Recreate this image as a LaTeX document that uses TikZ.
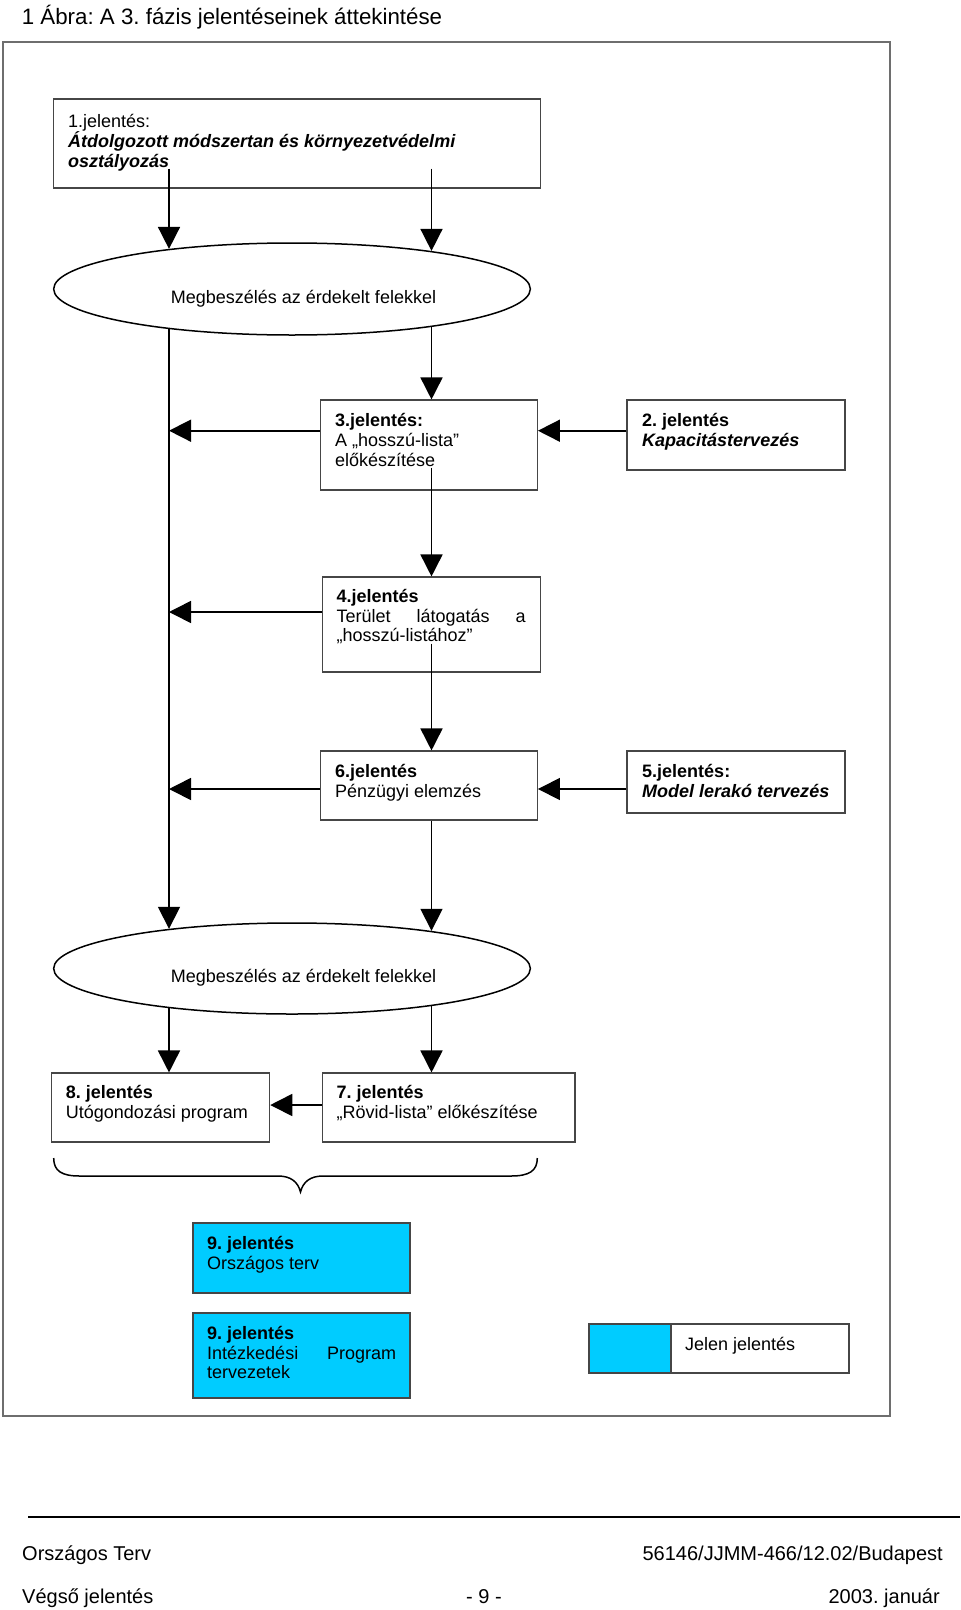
\documentclass[tikz,border=0pt]{standalone}
\usepackage{fontspec}
\setmainfont{Liberation Sans}
\usetikzlibrary{arrows.meta,shapes.geometric,calc}
\definecolor{cyanbox}{RGB}{0,204,255}
\definecolor{boxline}{RGB}{70,70,70}
\definecolor{frameline}{RGB}{110,110,110}
\newcommand\fl{\rule{0pt}{16bp}}
\frenchspacing
\begin{document}
\begin{tikzpicture}[x=1bp,y=-1bp,
  box/.style={draw=boxline, line width=1.1bp, rectangle, inner sep=0pt},
  ell/.style={draw=black, line width=1.5bp, ellipse, inner sep=0pt},
  txt/.style={inner sep=0pt, anchor=north west, align=left, font=\fontsize{18bp}{19.8bp}\selectfont},
  lbl/.style={inner sep=0pt, font=\fontsize{18bp}{19.8bp}\selectfont},
  arr/.style={line width=1.6bp, -{Triangle[length=22bp,width=22bp]}},
  foot/.style={inner sep=0pt, font=\fontsize{20bp}{22bp}\selectfont}]
\useasboundingbox (0,0) rectangle (960,1610);
\fill[white] (0,0) rectangle (960,1610);

% title
\node[inner sep=0pt, anchor=base west, font=\fontsize{22.3bp}{24bp}\selectfont] (title) at (21.7,25) {1 Ábra: A 3. fázis jelentéseinek áttekintése};

% outer frame
\node[draw=frameline, line width=1.3bp, rectangle, inner sep=0pt, minimum width=887bp, minimum height=1374bp] (frame) at (446.5,729) {};

% boxes
\node[box, minimum width=486.6bp, minimum height=89bp] (b1) at (297,143.5) {};
\node[box, minimum width=217bp, minimum height=90bp] (b3) at (428.9,445) {};
\node[box, minimum width=218bp, minimum height=70bp] (b2) at (736,435) {};
\node[box, minimum width=218bp, minimum height=95bp] (b4) at (431.4,624.5) {};
\node[box, minimum width=217bp, minimum height=69bp] (b6) at (428.9,785.5) {};
\node[box, minimum width=218bp, minimum height=62bp] (b5) at (736,782) {};
\node[box, minimum width=218bp, minimum height=69bp] (b8) at (160.7,1107.5) {};
\node[box, minimum width=252.6bp, minimum height=69bp] (b7) at (448.7,1107.5) {};
\node[box, fill=cyanbox, minimum width=217bp, minimum height=70bp] (b9a) at (301.5,1258) {};
\node[box, fill=cyanbox, minimum width=217bp, minimum height=85bp] (b9b) at (301.5,1355.5) {};
\node[box, fill=cyanbox, minimum width=82bp, minimum height=49bp] (lg1) at (630,1348.5) {};
\node[box, minimum width=178bp, minimum height=49bp] (lg2) at (760,1348.5) {};

% ellipses
\node[ell, minimum width=476.7bp, minimum height=92bp] (e1) at (292,289) {};
\node[ell, minimum width=476.7bp, minimum height=91bp] (e2) at (292,968.5) {};
\node[lbl, anchor=base] (e1t) at (303.5,303) {Megbeszélés az érdekelt felekkel};
\node[lbl, anchor=base] (e2t) at (303.5,982) {Megbeszélés az érdekelt felekkel};

% points where the vertical connectors meet the ellipses (x = 169 and x = 431.5)
\coordinate (e1tl) at ($(e1.center)+(-123,-40.1)$);
\coordinate (e1tr) at ($(e1.center)+(139.5,-38.1)$);
\coordinate (e1bl) at ($(e1.center)+(-123,40.1)$);
\coordinate (e1br) at ($(e1.center)+(139.5,38.1)$);
\coordinate (e2tl) at ($(e2.center)+(-123,-39.7)$);
\coordinate (e2tr) at ($(e2.center)+(139.5,-37.7)$);
\coordinate (e2bl) at ($(e2.center)+(-123,39.7)$);
\coordinate (e2br) at ($(e2.center)+(139.5,37.7)$);

% box texts
\node[txt] (t1) at (68,111.5) {\fl 1.jelentés:\\ \textbf{\textit{Átdolgozott módszertan és környezetvédelmi}}\\ \textbf{\textit{osztályozás}}};
\node[txt] (t3) at (335,410.5) {\fl\textbf{3.jelentés:}\\ A „hosszú-lista”\\ előkészítése};
\node[txt] (t2) at (642,410) {\fl\textbf{2. jelentés}\\ \textbf{\textit{Kapacitástervezés}}};
\node[txt] (t4) at (336.5,586) {\fl\textbf{4.jelentés}\\ \hbox to 189bp{Terület\hfill látogatás\hfill a}\\ „hosszú-listához”};
\node[txt] (t6) at (335,761) {\fl\textbf{6.jelentés}\\ Pénzügyi elemzés};
\node[txt] (t5) at (642,761) {\fl\textbf{5.jelentés:}\\ \textbf{\textit{Model lerakó tervezés}}};
\node[txt] (t8) at (65.7,1082) {\fl\textbf{8. jelentés}\\ Utógondozási program};
\node[txt] (t7) at (336.5,1082) {\fl\textbf{7. jelentés}\\ „Rövid-lista” előkészítése};
\node[txt] (t9a) at (207,1233) {\fl\textbf{9. jelentés}\\ Országos terv};
\node[txt] (t9b) at (207,1323) {\fl\textbf{9. jelentés}\\ \hbox to 189bp{Intézkedési\hfill Program}\\ tervezetek};
\node[lbl, anchor=base west] (lgt) at (685,1350) {Jelen jelentés};

% row levels for horizontal arrows
\coordinate (h3) at (0,430.7);
\coordinate (h4) at (0,612);
\coordinate (h6) at (0,789);
\coordinate (h7) at (0,1105);

% vertical connectors
\draw[arr] ($(b1.south -| e1tl)+(0,-20)$) -- (e1tl);
\draw[arr] ($(b1.south -| e1tr)+(0,-20)$) -- (e1tr);
\draw[arr] (e1br) -- (e1br |- b3.north);
\draw[arr] ($(b3.south -| e1br)+(0,-23)$) -- (e1br |- b4.north);
\draw[arr] ($(b4.south -| e1br)+(0,-29)$) -- (e1br |- b6.north);
\draw[arr] (b6.south -| e2tr) -- (e2tr);
\draw[arr] (e1bl) -- (e1bl |- e2tl);
\draw[arr] (e2bl) -- (e2bl |- b8.north);
\draw[arr] (e2br) -- (e2br |- b7.north);

% horizontal connectors
\draw[arr] (b2.west |- h3) -- (b3.east |- h3);
\draw[arr] (b3.west |- h3) -- (e1bl |- h3);
\draw[arr] (b4.west |- h4) -- (e1bl |- h4);
\draw[arr] (b6.west |- h6) -- (e1bl |- h6);
\draw[arr] (b5.west |- h6) -- (b6.east |- h6);
\draw[arr] (b7.west |- h7) -- (b8.east |- h7);

% brace
\draw[line width=1.5bp] (53.7,1158) .. controls (53.7,1171) and (61.7,1176) .. (79.7,1176) -- (278,1176)
  .. controls (291,1176) and (298,1182) .. (300.5,1192)
  .. controls (303,1182) and (310,1176) .. (323,1176) -- (511,1176)
  .. controls (529,1176) and (537.3,1171) .. (537.3,1158);

% footer
\draw[line width=2bp] (28,1517) -- (960,1517);
\node[foot, anchor=base west] (f1) at (22,1560) {Országos Terv};
\node[foot, anchor=base east] (f2) at (943,1560) {56146/JJMM-466/12.02/Budapest};
\node[foot, anchor=base west] (f3) at (22,1603) {Végső jelentés};
\node[foot, anchor=base] (f4) at (484,1603) {- 9 -};
\node[foot, anchor=base east] (f5) at (940,1603) {2003. január};
\end{tikzpicture}
\end{document}
